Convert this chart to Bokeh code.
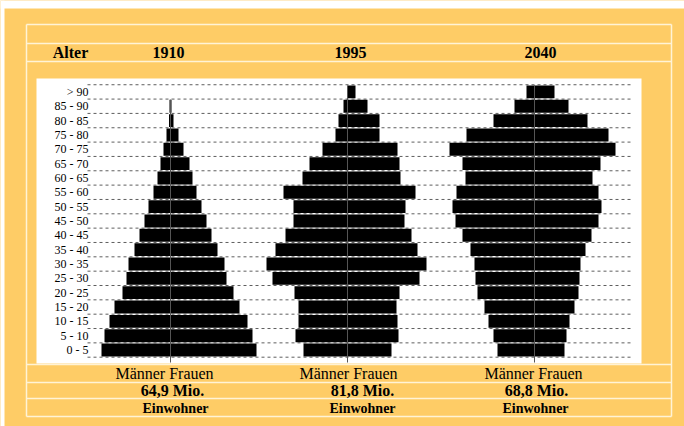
from bokeh.plotting import figure
from bokeh.models import Range1d, ColumnDataSource
from bokeh.transform import dodge
from bokeh.core.properties import value
from bokeh.embed import file_html
from bokeh.resources import INLINE

# ---------------- data (bar half-widths, relative units) ----------------
ages = ["0 - 5", "5 - 10", "10 - 15", "15 - 20", "20 - 25", "25 - 30", "30 - 35",
        "35 - 40", "40 - 45", "45 - 50", "50 - 55", "55 - 60", "60 - 65", "65 - 70",
        "70 - 75", "75 - 80", "80 - 85", "85 - 90", "> 90"]

years = ["1910", "1995", "2040"]
totals = ["64,9 Mio.", "81,8 Mio.", "68,8 Mio."]

men_1910 = [69, 66, 61, 56, 48, 44, 42, 36, 31, 26, 22, 17, 13, 10, 7, 4, 1.5, 1, 0]
women_1910 = [86, 82, 77, 69, 63, 56, 54, 47, 41, 36, 31, 26, 22, 19, 13, 8, 3, 1, 0]

men_1995 = [44, 52, 49, 49, 53, 75, 81, 72, 62, 54, 54, 64, 45, 38, 25, 12, 9, 4, 0]
women_1995 = [44, 51, 50, 49, 52, 72, 79, 70, 64, 57, 58, 68, 53, 52, 50, 32, 32, 20, 8]

men_2040 = [37, 41, 46, 50, 57, 59, 60, 64, 72, 79, 82, 78, 69, 72, 85, 68, 41, 20, 8]
women_2040 = [30, 32, 35, 40, 44, 45, 46, 51, 57, 64, 67, 64, 58, 66, 81, 74, 53, 34, 20]

men = [men_1910, men_1995, men_2040]
women = [women_1910, women_1995, women_2040]

# ---------------- layout constants ----------------
W, H = 684, 426
ROW_PX = 14.34
ROWS_BOTTOM_PX = 356.7
ORANGE = "#FECC66"
RULE = "#FFF3D6"
SERIF = value("Liberation Serif")

centers = [170, 347, 534]


def row_of(py):
    return (ROWS_BOTTOM_PX - py) / ROW_PX - 0.5


p = figure(width=W, height=H, output_backend="svg", toolbar_location=None,
           x_range=Range1d(0, W),
           y_range=Range1d(row_of(H), row_of(0)),
           x_axis_location=None, y_axis_location=None, min_border=0)
p.extra_y_ranges = {"page": Range1d(H, 0)}
p.grid.visible = False
p.outline_line_color = None
p.background_fill_color = ORANGE
p.border_fill_color = ORANGE

# white page strips at top and left
p.quad(left=[0, 0], right=[W, 4], top=[0, 0], bottom=[8, H], y_range_name="page",
       fill_color="white", line_color=None)

# table rules
h_rules = [24, 43, 61, 364, 382, 398, 416]
xs = [[26, 671] for _ in h_rules] + [[26, 26], [671, 671]]
ys = [[y, y] for y in h_rules] + [[24, 416], [24, 416]]
p.multi_line(xs=xs, ys=ys, y_range_name="page", line_color=RULE, line_width=1.5)

# white chart panel
p.quad(left=[36], right=[641], top=[78], bottom=[363], y_range_name="page",
       fill_color="white", line_color=None)

# dashed row separators
seps = [k - 0.5 for k in range(len(ages) + 1)]
p.multi_line(xs=[[87, 633] for _ in seps], ys=[[s, s] for s in seps],
             line_color="#5e5e5e", line_width=1, line_dash="3 3")

# pyramids
rows = list(range(len(ages)))
for c, m, w in zip(centers, men, women):
    src = ColumnDataSource(dict(row=rows, mneg=[-v for v in m], w=w))
    p.hbar(y="row", left=dodge("mneg", c), right=dodge("w", c), height=0.9,
           source=src, fill_color="black", line_color=None)
    top = max(i for i in rows if m[i] > 0 or w[i] > 0) + 0.45
    p.segment(x0=[c], x1=[c], y0=[row_of(362)], y1=[top],
              line_color="#555555", line_width=1)

# age labels
p.text(x=[88] * len(ages), y=rows, text=ages, text_align="right",
       text_baseline="middle", text_font=SERIF, text_font_size="12px",
       text_color="black")

# header
p.text(x=[70, 168, 350, 540], y=[52] * 4, text=["Alter"] + years,
       y_range_name="page", text_align="center", text_baseline="middle",
       text_font=SERIF, text_font_size="16px", text_font_style="bold",
       text_color="black")

# footer
p.text(x=[164, 348, 533], y=[373] * 3, text=["Männer Frauen"] * 3,
       y_range_name="page", text_align="center", text_baseline="middle",
       text_font=SERIF, text_font_size="16px", text_color="black")
p.text(x=[172, 362, 536], y=[390] * 3, text=totals,
       y_range_name="page", text_align="center", text_baseline="middle",
       text_font=SERIF, text_font_size="16px", text_font_style="bold",
       text_color="black")
p.text(x=[175, 362, 535], y=[408] * 3, text=["Einwohner"] * 3,
       y_range_name="page", text_align="center", text_baseline="middle",
       text_font=SERIF, text_font_size="14px", text_font_style="bold",
       text_color="black")

open("out.html", "w").write(file_html(p, INLINE))
